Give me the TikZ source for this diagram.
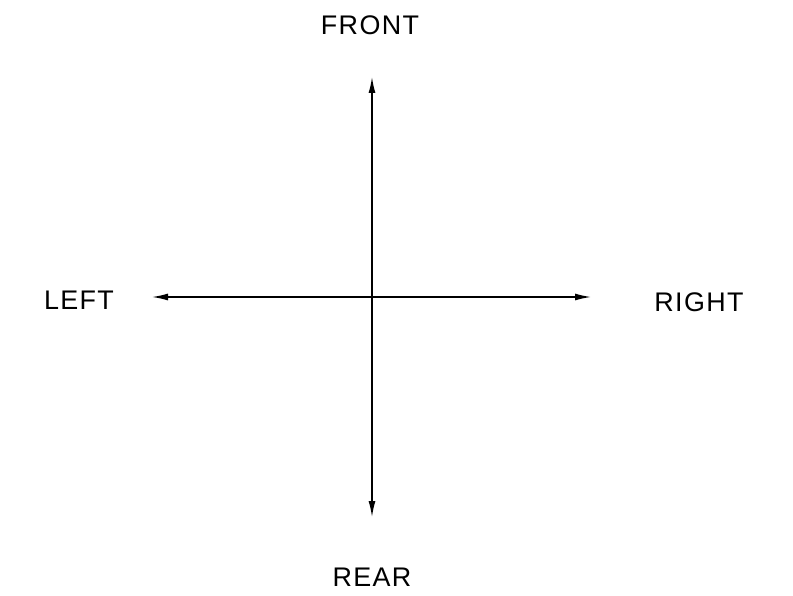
\documentclass[tikz,border=0pt]{standalone}
\usepackage{fontspec}
\setmainfont[LetterSpace=5]{Liberation Sans}
\usetikzlibrary{arrows.meta}
\begin{document}
\begin{tikzpicture}[x=1bp,y=-1bp,
  tip/.tip={Latex[length=16bp,width=7bp]},
  axis/.style={line width=1.4bp,tip-tip},
  lbl/.style={anchor=base,inner sep=0pt,font=\fontsize{27}{27}\selectfont}]
\useasboundingbox (0,0) rectangle (793,596);
\coordinate (c) at (372,297);
\coordinate (top) at (372,77);
\coordinate (bot) at (372,517);
\coordinate (lft) at (152,297);
\coordinate (rgt) at (591,297);
\draw[axis] (bot) -- (top);
\draw[axis] (lft) -- (rgt);
\node[lbl] (front) at (370,35) {FRONT};
\node[lbl] (left) at (79,309) {LEFT};
\node[lbl] (right) at (699,311) {RIGHT};
\node[lbl] (rear) at (372,586) {REAR};
\end{tikzpicture}
\end{document}
